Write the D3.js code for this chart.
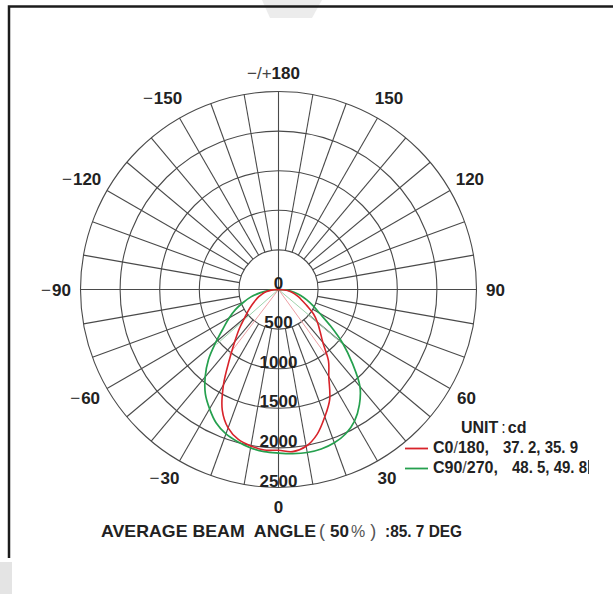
<!DOCTYPE html>
<html>
<head>
<meta charset="utf-8">
<script src="https://cdn.jsdelivr.net/npm/d3@7"></script>
<style>
  body { margin: 0; background: #fff; }
  svg { display: block; font-family: "Liberation Sans", Arial, sans-serif; }
  text { white-space: pre; }
</style>
</head>
<body>
<svg id="chart" width="613" height="594"></svg>
<script>
// gamma angles (0 = straight down, positive = right hand side)
const angles = [-90, -85, -80, -75, -70, -65, -60, -55, -50, -45, -40, -35, -30, -25, -20, -15, -10, -5,
  0, 5, 10, 15, 20, 25, 30, 35, 40, 45, 50, 55, 60, 65, 70, 75, 80, 85, 90];
// C0/180 plane, cd
const c0Values = [0, 90, 160, 210, 265, 320, 385, 465, 560, 700, 860, 1080, 1390, 1680, 1860, 1960, 2005, 2035,
  2030, 2055, 2010, 1890, 1710, 1530, 1270, 1100, 870, 740, 640, 540, 420, 330, 270, 210, 150, 80, 0];
// C90/270 plane, cd
const c90Values = [0, 120, 230, 360, 470, 600, 720, 850, 1030, 1250, 1440, 1610, 1740, 1860, 1940, 1990, 2030, 2055,
  2065, 2080, 2090, 2085, 2060, 2010, 1920, 1780, 1600, 1320, 1060, 800, 600, 480, 380, 290, 200, 110, 0];
// half beam angles (left, right)
const c0Beam = [-37.2, 35.9];
const c90Beam = [-48.5, 49.8];

const ringValues = [0, 500, 1000, 1500, 2000, 2500];
const angleLabels = [0, 30, 60, 90, 120, 150, -150, -120, -90, -60, -30];
const legendRows = [
  { plane: ["C0", "180,"], beam: "37. 2, 35. 9", color: "#d8232a" },
  { plane: ["C90", "270,"], beam: "48. 5, 49. 8", color: "#25a04e" }
];
const beamTitle = ["AVERAGE BEAM  ANGLE", "50", ":85. 7 DEG"];

const svg = d3.select("#chart");
const cx = 278.5, cy = 289.5, R = 198;
const r = d3.scaleLinear().domain([0, 2500]).range([0, R]);
const toRad = d => Math.PI - d * Math.PI / 180;

// page furniture
svg.append("path").attr("d", "M262,0 L322,0 L312,18 L270,18 Z").attr("fill", "#ececec");
svg.append("rect").attr("x", 0).attr("y", 562).attr("width", 12).attr("height", 32).attr("fill", "#e4e4e4");
svg.append("path").attr("d", "M9,558 L9,6.5 L613,6.5")
  .attr("fill", "none").attr("stroke", "#1c1c1c").attr("stroke-width", 2.5);

const g = svg.append("g").attr("transform", `translate(${cx},${cy})`);

// grid rings
g.selectAll("circle.ring")
  .data(ringValues.slice(1))
  .join("circle")
  .attr("class", "ring")
  .attr("r", d => r(d))
  .attr("fill", "none")
  .attr("stroke", "#4a4a4a")
  .attr("stroke-width", 1.1);

// spokes every 10 deg, main axes pass through centre
g.selectAll("line.spoke")
  .data(d3.range(0, 360, 10))
  .join("line")
  .attr("class", "spoke")
  .each(function(d) {
    const p0 = d3.pointRadial(toRad(d), d % 90 === 0 ? 0 : r(500));
    const p1 = d3.pointRadial(toRad(d), r(2500));
    d3.select(this).attr("x1", p0[0]).attr("y1", p0[1]).attr("x2", p1[0]).attr("y2", p1[1]);
  })
  .attr("stroke", "#4a4a4a")
  .attr("stroke-width", 1.1);

// beam angle rays
function drawBeam(beam, values, color) {
  const half = d3.max(values) / 2;
  g.selectAll(null)
    .data(beam)
    .join("line")
    .attr("x1", 0).attr("y1", 0)
    .attr("x2", d => d3.pointRadial(toRad(d), r(half))[0])
    .attr("y2", d => d3.pointRadial(toRad(d), r(half))[1])
    .attr("stroke", color)
    .attr("stroke-width", 1);
}
drawBeam(c90Beam, c90Values, "#9fd3ad");
drawBeam(c0Beam, c0Values, "#eda1a6");

// intensity curves
const line = d3.lineRadial()
  .angle(d => toRad(d[0]))
  .radius(d => r(d[1]))
  .curve(d3.curveCatmullRom);

g.append("path")
  .datum(d3.zip(angles, c90Values))
  .attr("d", line)
  .attr("fill", "none")
  .attr("stroke", legendRows[1].color)
  .attr("stroke-width", 1.7);

g.append("path")
  .datum(d3.zip(angles, c0Values))
  .attr("d", line)
  .attr("fill", "none")
  .attr("stroke", legendRows[0].color)
  .attr("stroke-width", 1.6);

// ring labels
g.selectAll("text.ringlab")
  .data(ringValues)
  .join("text")
  .attr("class", "ringlab")
  .attr("x", 0)
  .attr("y", d => r(d) - 1)
  .attr("text-anchor", "middle")
  .attr("font-size", 17)
  .attr("font-weight", "bold")
  .attr("fill", "#222")
  .text(d => d);

// angle labels
angleLabels.forEach(a => {
  const labR = Math.abs(a) >= 120 ? 221 : 217;
  const p = d3.pointRadial(toRad(a), labR);
  const t = g.append("text")
    .attr("x", p[0]).attr("y", p[1]).attr("dy", "0.36em")
    .attr("text-anchor", "middle")
    .attr("font-size", 17).attr("font-weight", "bold").attr("fill", "#222")
    .text(Math.abs(a));
  if (a < 0) {
    const w = t.node().getComputedTextLength();
    g.append("text")
      .attr("x", p[0] - w / 2 - 1).attr("y", p[1]).attr("dy", "0.36em")
      .attr("text-anchor", "end")
      .attr("font-size", 17).attr("fill", "#444")
      .text("\u2212");
  }
});
const topPos = d3.pointRadial(toRad(180), 217);
const t180 = g.append("text")
  .attr("x", topPos[0] - 5).attr("y", topPos[1]).attr("dy", "0.36em")
  .attr("text-anchor", "middle")
  .attr("font-size", 17).attr("fill", "#222");
t180.append("tspan").attr("fill", "#444").text("\u2212/+");
t180.append("tspan").attr("font-weight", "bold").text("180");

// legend
const leg = svg.append("g").attr("fill", "#222").attr("font-weight", "bold");
const unit = leg.append("text").attr("x", 461).attr("y", 432.5).attr("font-size", 16);
unit.append("tspan").text("UNIT");
unit.append("tspan").attr("font-weight", "normal").attr("dx", 3).text(":");
unit.append("tspan").attr("dx", 2).text("cd");

legendRows.forEach((row, i) => {
  const y = 452.5 + i * 20;
  leg.append("line")
    .attr("x1", 405).attr("x2", 428).attr("y1", y - 4).attr("y2", y - 4)
    .attr("stroke", row.color).attr("stroke-width", 1.8);
  const t = leg.append("text").attr("x", 433).attr("y", y).attr("font-size", 16);
  t.append("tspan").text(row.plane[0]);
  t.append("tspan").attr("font-weight", "normal").attr("fill", "#444").text("/");
  t.append("tspan").text(row.plane[1]);
  leg.append("text")
    .attr("x", i === 0 ? 503 : 512).attr("y", y)
    .attr("font-size", 16)
    .attr("textLength", 75).attr("lengthAdjust", "spacingAndGlyphs")
    .text(row.beam);
});
leg.append("line")
  .attr("x1", 588.5).attr("x2", 588.5).attr("y1", 460).attr("y2", 474)
  .attr("stroke", "#444").attr("stroke-width", 1);

// bottom caption
const cap = svg.append("g").attr("fill", "#222").attr("font-size", 17);
cap.append("text").attr("x", 101).attr("y", 536.5).attr("font-weight", "bold")
  .attr("textLength", 215).attr("lengthAdjust", "spacingAndGlyphs").text(beamTitle[0]);
const mid = cap.append("text").attr("x", 319).attr("y", 536.5);
mid.append("tspan").attr("fill", "#555").attr("font-size", 18).text("(");
mid.append("tspan").attr("font-weight", "bold").attr("dx", 5).text(beamTitle[1]);
mid.append("tspan").attr("fill", "#555").attr("font-size", 16).attr("dx", 2).text("%");
mid.append("tspan").attr("fill", "#555").attr("font-size", 18).attr("dx", 5).text(")");
cap.append("text").attr("x", 385).attr("y", 536.5).attr("font-weight", "bold")
  .attr("textLength", 77).attr("lengthAdjust", "spacingAndGlyphs").text(beamTitle[2]);
</script>
</body>
</html>
